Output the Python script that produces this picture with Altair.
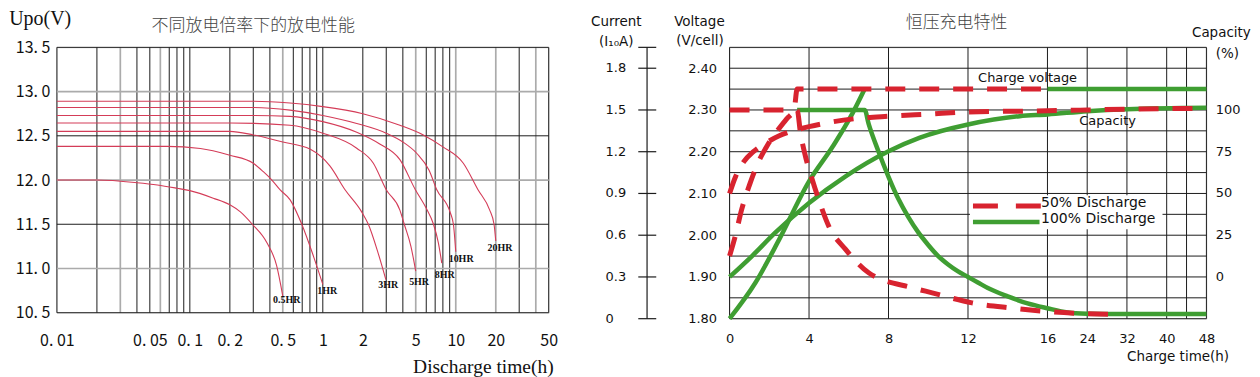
import altair as alt
import pandas as pd

# ================= Left panel: discharge curves at different rates =================
rates = ["0.5HR", "1HR", "3HR", "5HR", "8HR", "10HR", "20HR"]
time_05 = [0.01, 0.02, 0.04, 0.057, 0.08, 0.1, 0.15, 0.2, 0.24, 0.295, 0.38, 0.45, 0.5]
volt_05 = [12.0, 12.0, 11.97, 11.944, 11.907, 11.88, 11.795, 11.72, 11.64, 11.5, 11.29, 11.03, 10.69]
time_1 = [0.01, 0.067, 0.12, 0.2, 0.3, 0.357, 0.414, 0.478, 0.568, 0.695, 0.85, 1.0]
volt_1 = [12.38, 12.38, 12.357, 12.28, 12.19, 12.094, 12.0, 11.888, 11.776, 11.5, 11.14, 10.82]
time_3 = [0.01, 0.2, 0.3, 0.5, 0.8, 1.13, 1.47, 1.96, 2.2, 2.6, 2.98]
volt_3 = [12.55, 12.55, 12.51, 12.43, 12.35, 12.16, 11.89, 11.64, 11.5, 11.18, 10.875]
time_5 = [0.01, 0.2, 0.567, 1.0, 1.8, 2.4, 3.0, 3.8, 4.1, 4.6, 5.0]
volt_5 = [12.645, 12.645, 12.62, 12.53, 12.36, 12.19, 11.89, 11.66, 11.5, 11.25, 10.97]
time_8 = [0.01, 0.3, 0.567, 1.0, 1.8, 2.66, 3.8, 4.97, 6.0, 6.8, 7.4, 7.85]
volt_8 = [12.73, 12.73, 12.72, 12.66, 12.54, 12.41, 12.23, 11.89, 11.68, 11.5, 11.29, 11.06]
time_10 = [0.01, 0.3, 0.567, 1.0, 1.8, 3.0, 4.0, 5.1, 6.3, 7.2, 9.1, 9.6, 10.0]
volt_10 = [12.82, 12.82, 12.79, 12.73, 12.64, 12.53, 12.43, 12.3, 12.11, 11.89, 11.63, 11.5, 11.19]
time_20 = [0.01, 0.3, 0.567, 1.0, 2.0, 3.8, 5.7, 8.0, 11.4, 14.7, 18.0, 19.4, 20.0]
volt_20 = [12.89, 12.89, 12.87, 12.83, 12.75, 12.62, 12.51, 12.375, 12.19, 11.89, 11.66, 11.5, 11.31]

rate_label_t = [0.535, 1.08, 3.11, 5.3, 8.27, 10.97, 21.5]
rate_label_v = [10.64, 10.75, 10.81, 10.85, 10.93, 11.11, 11.23]

x_grid = [0.01, 0.02, 0.03, 0.04, 0.05, 0.06, 0.07, 0.08, 0.09,
          0.1, 0.2, 0.3, 0.4, 0.5, 0.6, 0.7, 0.8, 0.9,
          1, 2, 3, 4, 5, 6, 7, 8, 9, 10, 20, 30, 40, 50]
x_labels = [0.01, 0.05, 0.1, 0.2, 0.5, 1, 2, 5, 10, 20, 50]
y_grid = [10.5, 11.0, 11.5, 12.0, 12.5, 13.0, 13.5]
y_labels = [10.5, 11.0, 11.5, 12.0, 12.5, 13.0, 13.5]

# ================= Right panel: constant-voltage charge characteristics =================
grid_hours = [0, 4, 8, 12, 16, 24, 32, 40, 44, 48]
hour_labels = [0, 4, 8, 12, 16, 24, 32, 40, 48]
volt_grid = [1.80, 1.85, 1.90, 1.95, 2.00, 2.05, 2.10, 2.15, 2.20, 2.25, 2.30, 2.35, 2.40, 2.45]
volt_labels = [1.8, 1.9, 2.0, 2.1, 2.2, 2.3, 2.4]
current_labels = [0, 0.3, 0.6, 0.9, 1.2, 1.5, 1.8]
capacity_labels = [0, 25, 50, 75, 100]

# 100% discharge (green)
g_volt_t = [0, 1.3, 2.5, 4.0, 5.2, 6.2, 6.8]
g_volt_v = [1.80, 1.886, 1.99, 2.129, 2.213, 2.293, 2.35]
g_hold_t = [16, 48]
g_hold_v = [2.35, 2.35]
g_curr_t = [3.4, 6.8, 7.0, 7.5, 8.0, 8.5, 9.0, 9.5, 10.0, 10.5, 11.0, 11.5, 12.0, 12.5, 13.0, 14.0, 15.0, 16.0, 20.0, 24.0, 30.0, 48.0]
g_curr_a = [1.5, 1.5, 1.40, 1.20, 1.02, 0.86, 0.73, 0.62, 0.53, 0.45, 0.39, 0.34, 0.30, 0.26, 0.22, 0.16, 0.11, 0.075, 0.045, 0.036, 0.033, 0.033]
g_cap_t = [0, 1.13, 2.3, 4, 5.84, 8, 9.55, 12, 14.6, 16, 24, 32, 48]
g_cap_p = [0, 12.5, 26.5, 44.3, 60.3, 75.3, 83.3, 91.3, 96.3, 97.3, 99.3, 100.5, 101.3]

# 50% discharge (red dashed)
r_volt_t = [0, 0.3, 0.6, 1.0, 1.4, 1.9, 2.4, 2.9, 3.25, 3.4, 16]
r_volt_v = [1.95, 2.0, 2.06, 2.12, 2.17, 2.215, 2.25, 2.28, 2.30, 2.35, 2.35]
r_curr_t = [0, 3.4, 3.57, 3.82, 4.16, 4.49, 5.0, 5.84, 7.0, 9.2, 10.2, 12.2, 14.1, 15.8, 21.8, 30.6]
r_curr_a = [1.5, 1.5, 1.335, 1.167, 1.0, 0.855, 0.663, 0.498, 0.33, 0.222, 0.186, 0.114, 0.078, 0.054, 0.039, 0.03]
r_cap_t = [0, 0.3, 0.7, 1.2, 1.8, 2.5, 3.2, 4, 5, 6.5, 8, 10, 12, 16, 24, 32, 48]
r_cap_p = [50, 60, 68.75, 75, 80, 84.5, 87.5, 90, 92.5, 95, 96.25, 97.5, 98.75, 99.5, 100, 100.5, 101]

curve_notes = ["Charge voltage", "Capacity"]
curve_note_t = [15.0, 28.1]
curve_note_v = [2.377, 2.273]

# ================= styling =================
LW, LH = 493, 266
RW, RH = 478, 272
JP = "Noto Sans CJK JP"
SC = "Noto Sans CJK SC"
SERIF = "Liberation Serif"
SANS = "DejaVu Sans"
RED_L = "#d43c58"
DARK = "#1c1c1c"
GRAY = "#ababab"
GREEN = "#3f9e32"
RED = "#d8232f"


def note(text, x, y, **kw):
    return alt.Chart(pd.DataFrame({"s": [text]})).mark_text(**kw).encode(
        text="s:N", x=alt.value(x), y=alt.value(y))


# ---------------- left chart ----------------
lx = alt.Scale(type="log", domain=[0.01, 50], nice=False)
ly = alt.Scale(domain=[10.5, 13.5], nice=False, zero=False)
AXL_X = alt.Axis(
    values=x_labels, labelExpr="replace(format(datum.value, '~g'), '.', '. ')",
    title=None, grid=False, ticks=False, domain=False, labelFont=JP, labelFontSize=16,
    labelColor="#111", labelPadding=33, labelBaseline="alphabetic", labelFlush=False,
    labelOverlap=False)
AXL_Y = alt.Axis(
    values=y_labels, labelExpr="replace(format(datum.value, '.1f'), '.', '. ')",
    title=None, grid=False, ticks=False, domain=False, labelFont=JP, labelFontSize=16,
    labelColor="#111", labelPadding=7, labelOverlap=False)

rows = []
for name, ts, vs in zip(rates, [time_05, time_1, time_3, time_5, time_8, time_10, time_20],
                        [volt_05, volt_1, volt_3, volt_5, volt_8, volt_10, volt_20]):
    for t, v in zip(ts, vs):
        rows.append({"rate": name, "t": t, "v": v})
dis_df = pd.DataFrame(rows)

gray_x = "indexof([0.03, 0.06, 0.5, 5, 10, 20, 40], datum.x) >= 0"
gray_y = "indexof([11, 12, 13], datum.y) >= 0"

vgrid_l = alt.Chart(pd.DataFrame({"x": x_grid})).mark_rule().encode(
    x=alt.X("x:Q", scale=lx, axis=AXL_X),
    color=alt.condition(gray_x, alt.value(GRAY), alt.value(DARK)),
    strokeWidth=alt.condition(gray_x, alt.value(1.7), alt.value(1)),
)
hgrid_l = alt.Chart(pd.DataFrame({"y": y_grid})).mark_rule().encode(
    y=alt.Y("y:Q", scale=ly, axis=AXL_Y),
    color=alt.condition(gray_y, alt.value(GRAY), alt.value(DARK)),
    strokeWidth=alt.condition(gray_y, alt.value(1.7), alt.value(1)),
)
curves_l = alt.Chart(dis_df).mark_line(color=RED_L, strokeWidth=1.1, interpolate="monotone").encode(
    x=alt.X("t:Q", scale=lx, axis=AXL_X),
    y=alt.Y("v:Q", scale=ly, axis=AXL_Y),
    detail="rate:N",
)
rate_lbl = alt.Chart(pd.DataFrame({"rate": rates, "t": rate_label_t, "v": rate_label_v})).mark_text(
    font=SERIF, fontSize=10, fontWeight="bold", color="#111").encode(
    x=alt.X("t:Q", scale=lx, axis=AXL_X), y=alt.Y("v:Q", scale=ly, axis=AXL_Y), text="rate:N")

left = alt.layer(
    vgrid_l, hgrid_l, curves_l, rate_lbl,
    note("Upo(V)", -16.7, -28.0, font=SERIF, fontSize=20, color="#111", baseline="middle"),
    note("不同放电倍率下的放电性能", 196.8, -21.7, font=SC, fontSize=17, fontWeight=300,
         color="#444", baseline="middle"),
    note("Discharge time(h)", 427.5, 326.0, font=SERIF, fontSize=19.5, color="#111", baseline="alphabetic"),
).properties(width=LW, height=LH)

# ---------------- right chart ----------------
ux = alt.Scale(domain=[0, 24], nice=False)
vy = alt.Scale(domain=[1.80, 2.45], nice=False, zero=False)
U_EXPR = "datum.t <= 16 ? datum.t : 16 + (datum.t - 16) / 4"
Y_EXPR = ("datum.kind == 'curr' ? 1.8 + datum.val / 3 : "
          "(datum.kind == 'cap' ? 1.9 + datum.val / 250 : datum.val)")
hour_label_u = [h if h <= 16 else 16 + (h - 16) / 4 for h in hour_labels]
AXR_X = alt.Axis(
    values=hour_label_u,
    labelExpr="datum.value <= 16 ? datum.value : 16 + (datum.value - 16) * 4",
    title=None, grid=False, ticks=False, domain=False, labelFont=SANS, labelFontSize=13,
    labelColor="#111", labelPadding=24, labelBaseline="alphabetic", labelFlush=False,
    labelOverlap=False)
AXR_Y = alt.Axis(
    values=volt_labels, format=".2f", title=None, grid=False, ticks=False, domain=False,
    labelFont=SANS, labelFontSize=13, labelColor="#111", labelPadding=13, labelOverlap=False)

rows = []
def add(ts, vs, kind, disc, part):
    for t, v in zip(ts, vs):
        rows.append({"t": t, "val": v, "kind": kind, "disc": disc, "part": part})

add(g_volt_t, g_volt_v, "volt", "100%", "g_volt")
add(g_hold_t, g_hold_v, "volt", "100%", "g_hold")
add(g_curr_t, g_curr_a, "curr", "100%", "g_curr")
add(g_cap_t, g_cap_p, "cap", "100%", "g_cap")
add(r_volt_t, r_volt_v, "volt", "50%", "r_volt")
add(r_curr_t, r_curr_a, "curr", "50%", "r_curr")
add(r_cap_t, r_cap_p, "cap", "50%", "r_cap")
chg_df = pd.DataFrame(rows)

vgrid_r = alt.Chart(pd.DataFrame({"t": grid_hours})).transform_calculate(u=U_EXPR).mark_rule(
    color=DARK, strokeWidth=1).encode(x=alt.X("u:Q", scale=ux, axis=AXR_X))
hgrid_r = alt.Chart(pd.DataFrame({"y": volt_grid})).mark_rule(color=DARK, strokeWidth=1).encode(
    y=alt.Y("y:Q", scale=vy, axis=AXR_Y))

legend_box = alt.Chart(pd.DataFrame({"s": ["box"]})).mark_rect(color="white").encode(
    x=alt.value(241), x2=alt.value(434), y=alt.value(148.3), y2=alt.value(182.3))

base = alt.Chart(chg_df).transform_calculate(u=U_EXPR, y=Y_EXPR)
green_lines = base.transform_filter("datum.disc == '100%'").mark_line(
    color=GREEN, strokeWidth=4.5, interpolate="monotone").encode(
    x=alt.X("u:Q", scale=ux, axis=AXR_X), y=alt.Y("y:Q", scale=vy, axis=AXR_Y), detail="part:N")
red_lines = base.transform_filter("datum.disc == '50%'").mark_line(
    color=RED, strokeWidth=5, strokeDash=[20, 14], interpolate="monotone").encode(
    x=alt.X("u:Q", scale=ux, axis=AXR_X), y=alt.Y("y:Q", scale=vy, axis=AXR_Y), detail="part:N")

# current axis (left, outside the voltage axis)
cur_axis_line = alt.Chart(pd.DataFrame({"a": [1.80], "b": [2.45]})).mark_rule(
    color=DARK, strokeWidth=1.2).encode(
    x=alt.value(-82.7), y=alt.Y("a:Q", scale=vy, axis=AXR_Y), y2="b:Q")
cur_ticks = alt.Chart(pd.DataFrame({"c": current_labels + [1.95]})).transform_calculate(
    yv="1.8 + datum.c / 3").mark_rule(color=DARK, strokeWidth=1.2).encode(
    x=alt.value(-91.5), x2=alt.value(-73.5), y=alt.Y("yv:Q", scale=vy, axis=AXR_Y))
cur_lbls = alt.Chart(pd.DataFrame({"c": current_labels})).transform_calculate(
    yv="1.8 + datum.c / 3", s="format(datum.c, '~g')").mark_text(
    font=SANS, fontSize=13, color="#111", align="left", baseline="middle").encode(
    x=alt.value(-124.3), y=alt.Y("yv:Q", scale=vy, axis=AXR_Y), text="s:N")
cap_lbls = alt.Chart(pd.DataFrame({"p": capacity_labels})).transform_calculate(
    yv="1.9 + datum.p / 250", s="format(datum.p, 'd')").mark_text(
    font=SANS, fontSize=13, color="#111", align="left", baseline="middle").encode(
    x=alt.value(RW + 9.3), y=alt.Y("yv:Q", scale=vy, axis=AXR_Y), text="s:N")

curve_lbls = alt.Chart(pd.DataFrame({"s": curve_notes, "t": curve_note_t, "v": curve_note_v})).transform_calculate(
    u=U_EXPR).mark_text(font=SANS, fontSize=13, color="#111", baseline="middle").encode(
    x=alt.X("u:Q", scale=ux, axis=AXR_X), y=alt.Y("v:Q", scale=vy, axis=AXR_Y), text="s:N")

leg_red = alt.Chart(pd.DataFrame({"s": ["50%"]})).mark_rule(
    color=RED, strokeWidth=5, strokeDash=[25, 18]).encode(
    x=alt.value(244), x2=alt.value(312.3), y=alt.value(159))
leg_green = alt.Chart(pd.DataFrame({"s": ["100%"]})).mark_rule(
    color=GREEN, strokeWidth=4.5).encode(
    x=alt.value(244), x2=alt.value(310.7), y=alt.value(175))

right = alt.layer(
    vgrid_r, hgrid_r, legend_box, green_lines, red_lines,
    cur_axis_line, cur_ticks, cur_lbls, cap_lbls, curve_lbls, leg_red, leg_green,
    note("50% Discharge", 312.3, 155.6, font=SANS, fontSize=14, color="#111", align="left", baseline="middle"),
    note("100% Discharge", 312.3, 172.3, font=SANS, fontSize=14, color="#111", align="left", baseline="middle"),
    note("Current", -113.5, -25.2, font=SANS, fontSize=13.5, color="#111", baseline="middle"),
    note("(I₁₀A)", -113.5, -5.2, font=SANS, fontSize=13.5, color="#111", baseline="middle"),
    note("Voltage", -30.2, -25.2, font=SANS, fontSize=13.5, color="#111", baseline="middle"),
    note("(V/cell)", -29.7, -6.7, font=SANS, fontSize=13.5, color="#111", baseline="middle"),
    note("恒压充电特性", 227.5, -24.4, font=SC, fontSize=17, fontWeight=300, color="#444", baseline="middle"),
    note("Capacity", 493, -14.7, font=SANS, fontSize=13.5, color="#111", baseline="middle"),
    note("(%)", 499, 6.3, font=SANS, fontSize=13.5, color="#111", baseline="middle"),
    note("Charge time(h)", 500.7, 310.3, font=SANS, fontSize=13.5, color="#111", align="right", baseline="middle"),
).properties(width=RW, height=RH)

chart = alt.hconcat(
    left, right, spacing=181.3, bounds="flush", padding=0,
).configure_view(stroke="#111", strokeWidth=1.2).configure(background="white")

chart.save("out.html", embed_options={"renderer": "svg", "actions": False})
